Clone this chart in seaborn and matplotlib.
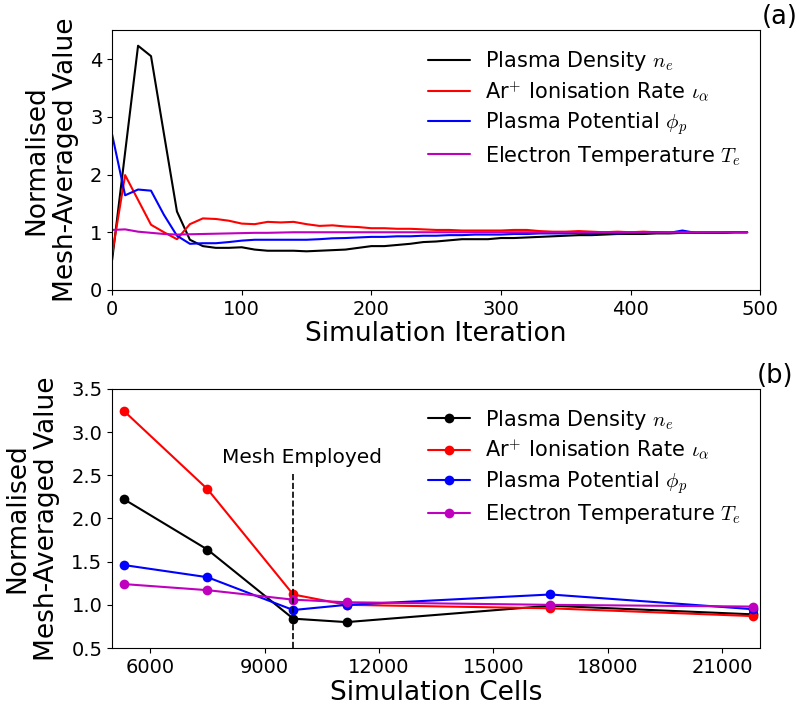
from matplotlib import pyplot as plt
import pandas as pd
import numpy as np
import seaborn as sns

sns.set_style('ticks')
plt.rcParams['font.family'] = ['DejaVu Sans']
plt.rcParams['mathtext.fontset'] = 'cm'
for k in ['text.color', 'axes.labelcolor', 'xtick.color', 'ytick.color', 'axes.edgecolor']:
    plt.rcParams[k] = 'black'

# (a) convergence over iterations
iteration = list(range(0, 500, 10))
ne_iter = [0.52, 2.38, 4.23, 4.05, 2.70, 1.36, 0.87, 0.76, 0.73, 0.73,
           0.74, 0.70, 0.68, 0.68, 0.68, 0.67, 0.68, 0.69, 0.70, 0.73,
           0.76, 0.76, 0.78, 0.80, 0.83, 0.84, 0.86, 0.88, 0.88, 0.88,
           0.90, 0.90, 0.91, 0.92, 0.93, 0.94, 0.95, 0.95, 0.96, 0.97,
           0.97, 0.97, 0.98, 0.98, 0.99, 0.99, 0.99, 0.99, 1.00, 1.00]
iota_iter = [0.62, 1.99, 1.56, 1.13, 1.00, 0.88, 1.14, 1.24, 1.23, 1.20,
             1.15, 1.14, 1.18, 1.17, 1.18, 1.14, 1.11, 1.12, 1.10, 1.09,
             1.07, 1.07, 1.06, 1.06, 1.05, 1.04, 1.04, 1.03, 1.03, 1.03,
             1.03, 1.04, 1.04, 1.02, 1.01, 1.01, 1.02, 1.01, 1.00, 1.01,
             1.00, 1.01, 1.00, 1.00, 1.00, 1.00, 1.00, 1.00, 1.00, 1.00]
phi_iter = [2.69, 1.64, 1.74, 1.72, 1.30, 0.94, 0.80, 0.81, 0.81, 0.83,
            0.855, 0.87, 0.87, 0.87, 0.87, 0.87, 0.88, 0.895, 0.90, 0.91,
            0.92, 0.92, 0.93, 0.93, 0.94, 0.94, 0.95, 0.95, 0.96, 0.96,
            0.96, 0.97, 0.97, 0.98, 0.98, 0.98, 0.99, 0.98, 0.99, 0.98,
            0.99, 0.99, 1.00, 0.99, 1.03, 0.99, 0.99, 0.99, 1.00, 1.00]
te_iter = [1.04, 1.05, 1.01, 0.99, 0.97, 0.96, 0.965, 0.97, 0.975, 0.98,
           0.985, 0.99, 0.99, 0.995, 1.00, 1.00, 1.00, 1.00, 1.00, 1.00,
           1.00, 1.00, 1.00, 1.00, 1.00, 1.00, 1.00, 1.00, 1.00, 1.00,
           1.00, 1.00, 1.00, 1.00, 1.00, 1.00, 1.00, 1.00, 1.00, 1.00,
           1.00, 1.00, 1.00, 1.00, 1.00, 1.00, 1.00, 1.00, 1.00, 1.00]

# (b) mesh sensitivity
cells = [5320, 7500, 9750, 11150, 16500, 21800]
ne_mesh = [2.22, 1.64, 0.84, 0.80, 0.99, 0.89]
iota_mesh = [3.24, 2.34, 1.12, 1.00, 0.96, 0.87]
phi_mesh = [1.46, 1.32, 0.94, 1.00, 1.12, 0.95]
te_mesh = [1.24, 1.17, 1.06, 1.03, 1.00, 0.98]
mesh_employed = 9750

labels = [r'Plasma Density $n_e$', r'Ar$^{+}$ Ionisation Rate $\iota_\alpha$',
          r'Plasma Potential $\phi_p$', r'Electron Temperature $T_e$']
colors = ['k', 'r', 'b', 'm']

df_iter = pd.concat([pd.DataFrame({'x': iteration, 'y': v, 'var': lab})
                     for v, lab in zip([ne_iter, iota_iter, phi_iter, te_iter], labels)])
df_mesh = pd.concat([pd.DataFrame({'x': cells, 'y': v, 'var': lab})
                     for v, lab in zip([ne_mesh, iota_mesh, phi_mesh, te_mesh], labels)])

fig = plt.figure(figsize=(8.01, 7.08), dpi=100)
ax1 = fig.add_axes([0.14, 0.5904, 0.809, 0.367])
ax2 = fig.add_axes([0.14, 0.0847, 0.809, 0.366])

leg_kw = dict(loc='upper right', frameon=False, fontsize=15, handlelength=2.0,
              labelspacing=0.32, handletextpad=0.75, borderaxespad=0.5)

sns.lineplot(data=df_iter, x='x', y='y', hue='var', palette=colors, ax=ax1, linewidth=1.5)
ax1.set_xlim(0, 500)
ax1.set_ylim(0, 4.5)
ax1.set_xticks(np.arange(0, 501, 100))
ax1.set_yticks(np.arange(0, 5, 1))
ax1.set_xlabel('Simulation Iteration', fontsize=19, labelpad=2)
ax1.set_ylabel('Normalised\nMesh-Averaged Value', fontsize=19, labelpad=8)
ax1.tick_params(labelsize=14)
ax1.legend(**leg_kw)
ax1.text(1.002, 1.0, '(a)', transform=ax1.transAxes, fontsize=18.5, ha='left', va='bottom')

sns.lineplot(data=df_mesh, x='x', y='y', hue='var', palette=colors, ax=ax2,
             linewidth=1.5, marker='o', markersize=7, markeredgewidth=0)
ax2.plot([mesh_employed, mesh_employed], [0.5, 2.53], 'k--', linewidth=1.2)
ax2.text(9970, 2.6, 'Mesh Employed', fontsize=14.5, ha='center', va='bottom')
ax2.set_xlim(5000, 22000)
ax2.set_ylim(0.5, 3.5)
ax2.set_xticks(np.arange(6000, 21001, 3000))
ax2.set_yticks(np.arange(0.5, 3.51, 0.5))
ax2.set_xlabel('Simulation Cells', fontsize=19, labelpad=2)
ax2.set_ylabel('Normalised\nMesh-Averaged Value', fontsize=19, labelpad=8)
ax2.tick_params(labelsize=14)
ax2.legend(**leg_kw)
ax2.text(0.995, 1.0, '(b)', transform=ax2.transAxes, fontsize=18.5, ha='left', va='bottom')

fig.savefig('out.png', dpi=100)
